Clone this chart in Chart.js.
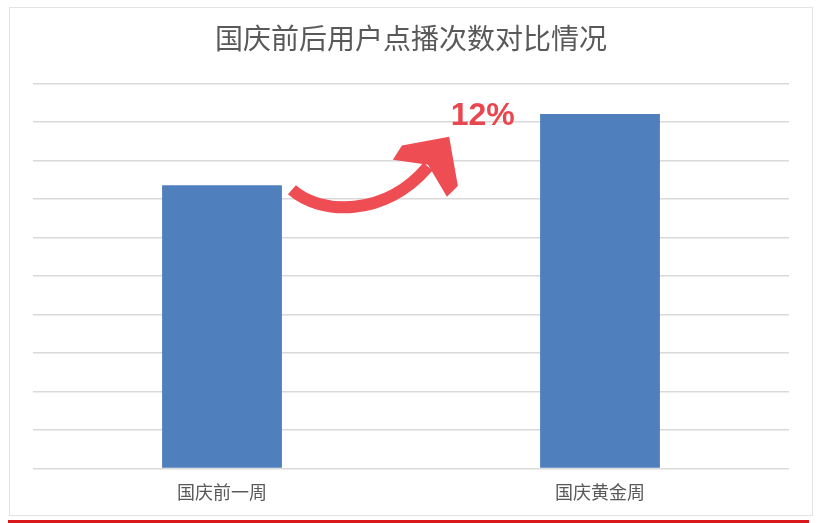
<!DOCTYPE html>
<html>
<head>
<meta charset="utf-8">
<script src="https://cdn.jsdelivr.net/npm/chart.js@4.4.1/dist/chart.umd.min.js"></script>
<style>
  html, body { margin: 0; padding: 0; background: #fff; }
  #wrap { position: relative; width: 828px; height: 523px; }
  #frame { position: absolute; left: 9px; top: 7px; width: 802px; height: 507px; border: 1px solid #e3e3e3; pointer-events: none; }
  #strip { position: absolute; left: 8px; top: 520px; width: 801px; height: 3px; background: #d9181c; }
</style>
</head>
<body>
<div id="wrap">
  <canvas id="chart"></canvas>
  <div id="frame"></div>
  <div id="strip"></div>
</div>
<script>
const categories = ['国庆前一周', '国庆黄金周'];
const playCounts = [7.36, 9.21];
const growthLabel = '12%';

// red curved arrow between the two bars, in (category index, value) units
const arrowBody = [[0.185, 7.24], [0.259, 6.59], [0.431, 6.51], [0.545, 7.84]];
const arrowHead = [[0.601, 8.62], [0.476, 8.39], [0.452, 8.02], [0.545, 7.89], [0.595, 7.06], [0.624, 7.34]];
const labelPos = [0.605, 8.93];

const arrowPlugin = {
  id: 'growthArrow',
  afterDatasetsDraw(chart) {
    const ctx = chart.ctx;
    const xs = chart.scales.x, ys = chart.scales.y;
    const pt = p => [xs.getPixelForValue(p[0]), ys.getPixelForValue(p[1])];
    const b = arrowBody.map(pt);
    ctx.save();
    ctx.strokeStyle = '#ee4d53';
    ctx.fillStyle = '#ee4d53';
    ctx.lineWidth = 12;
    ctx.lineCap = 'butt';
    ctx.beginPath();
    ctx.moveTo(b[0][0], b[0][1]);
    ctx.bezierCurveTo(b[1][0], b[1][1], b[2][0], b[2][1], b[3][0], b[3][1]);
    ctx.stroke();
    const h = arrowHead.map(pt);
    ctx.beginPath();
    h.forEach((p, i) => i ? ctx.lineTo(p[0], p[1]) : ctx.moveTo(p[0], p[1]));
    ctx.closePath();
    ctx.fill();
    const lp = pt(labelPos);
    ctx.fillStyle = '#e8474f';
    ctx.font = 'bold 32px "Liberation Sans", Arial, sans-serif';
    ctx.textAlign = 'left';
    ctx.textBaseline = 'alphabetic';
    ctx.fillText(growthLabel, lp[0], lp[1]);
    ctx.restore();
  }
};

new Chart(document.getElementById('chart'), {
  type: 'bar',
  data: {
    labels: categories,
    datasets: [{
      data: playCounts,
      backgroundColor: '#4f7fbd',
      borderWidth: 0,
      categoryPercentage: 1,
      barPercentage: 0.317
    }]
  },
  options: {
    responsive: true,
    maintainAspectRatio: false,
    animation: false,
    layout: { padding: { left: 33, right: 39, top: 0, bottom: 7 } },
    plugins: {
      legend: { display: false },
      tooltip: { enabled: false },
      title: {
        display: true,
        text: '国庆前后用户点播次数对比情况',
        color: '#595959',
        font: { family: '"Noto Sans CJK SC", sans-serif', size: 28, weight: 'normal', lineHeight: 1.2 },
        padding: { top: 22, bottom: 28 }
      }
    },
    scales: {
      x: {
        grid: { display: false, drawTicks: false },
        border: { display: false },
        ticks: {
          color: '#595959',
          padding: 13,
          font: { family: '"Noto Sans CJK SC", sans-serif', size: 18, lineHeight: 1.2 }
        }
      },
      y: {
        min: 0,
        max: 10,
        ticks: { display: false, stepSize: 1 },
        grid: { color: '#d9d9d9', lineWidth: 1.5, drawTicks: false },
        border: { display: false }
      }
    }
  },
  plugins: [arrowPlugin]
});
</script>
</body>
</html>
